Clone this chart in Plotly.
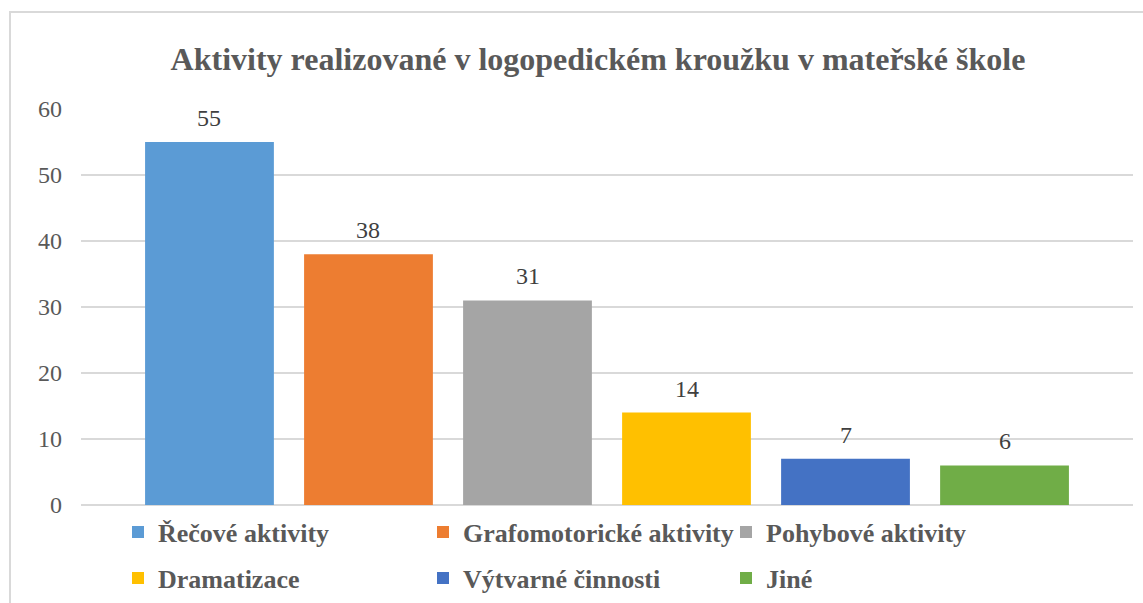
import plotly.graph_objects as go

categories = ["Řečové aktivity", "Grafomotorické aktivity", "Pohybové aktivity",
              "Dramatizace", "Výtvarné činnosti", "Jiné"]
values = [55, 38, 31, 14, 7, 6]
colors = ["#5B9BD5", "#ED7D31", "#A5A5A5", "#FFC000", "#4472C4", "#70AD47"]
y_ticks = [0, 10, 20, 30, 40, 50, 60]

FONT = "Liberation Serif, Times New Roman, serif"

# plot area in pixels: left 81, right 1133, top 109, bottom 505
W, H = 1143, 603
L, R, T, B = 81, 1133, 109, 505

def px_x(px):
    return (px - L) / (R - L)

def px_y(py):
    return (B - py) / (B - T)

legend_ids = ["legend", "legend2", "legend3", "legend4", "legend5", "legend6"]
legend_pos = [(118, 532), (423, 532), (726, 532),
              (118, 578), (423, 578), (726, 578)]

fig = go.Figure()
for i, (cat, val, col) in enumerate(zip(categories, values, colors)):
    fig.add_trace(go.Bar(
        x=[cat], y=[val], name=cat, width=0.81,
        marker=dict(color=col, line=dict(width=0)),
        legend=legend_ids[i],
        hoverinfo="x+y",
    ))
    fig.add_annotation(x=cat, y=val, text=str(val), showarrow=False,
                       yshift=24, yanchor="middle",
                       font=dict(family=FONT, size=24, color="#404040"))

layout_legends = {}
for lid, (lx, ly) in zip(legend_ids, legend_pos):
    layout_legends[lid] = dict(
        x=lx / W, y=1 - ly / H, xanchor="left", yanchor="middle",
        xref="container", yref="container",
        bgcolor="rgba(0,0,0,0)",
        font=dict(family=FONT, size=26, color="#595959", weight="bold"),
        itemclick=False, itemdoubleclick=False,
    )

fig.update_layout(
    width=W, height=H,
    font=dict(family=FONT, size=24, color="#595959"),
    margin=dict(l=L, r=W - R, t=T, b=H - B, pad=0, autoexpand=False),
    paper_bgcolor="white", plot_bgcolor="white",
    barmode="overlay",
    showlegend=True,
    title=dict(text="<b>Aktivity realizované v logopedickém kroužku v mateřské škole</b>",
               x=598 / W, xref="container", xanchor="center",
               y=1 - 59 / H, yref="container", yanchor="middle",
               font=dict(family=FONT, size=32, color="#595959")),
    xaxis=dict(type="category", categoryorder="array", categoryarray=categories,
               range=[-0.808, 5.808], showticklabels=False, showgrid=False,
               showline=False, zeroline=False, ticks="", fixedrange=True),
    yaxis=dict(range=[0, 60], tickvals=y_ticks, ticktext=[str(v) for v in y_ticks],
               showgrid=True, gridcolor="#D9D9D9", gridwidth=1.75,
               zeroline=True, zerolinecolor="#D9D9D9", zerolinewidth=1.75,
               showline=False, ticks="", ticklabelstandoff=18,
               tickfont=dict(family=FONT, size=24, color="#595959"),
               fixedrange=True),
    shapes=[dict(type="rect", xref="paper", yref="paper",
                 x0=px_x(10), x1=px_x(1160), y0=px_y(640), y1=px_y(12),
                 line=dict(color="#D9D9D9", width=2), fillcolor="rgba(0,0,0,0)",
                 layer="below")],
    **layout_legends,
)

fig.write_html("out.html", config={"displayModeBar": False},
               post_script="document.body.style.margin='0';document.body.style.overflow='hidden';")
